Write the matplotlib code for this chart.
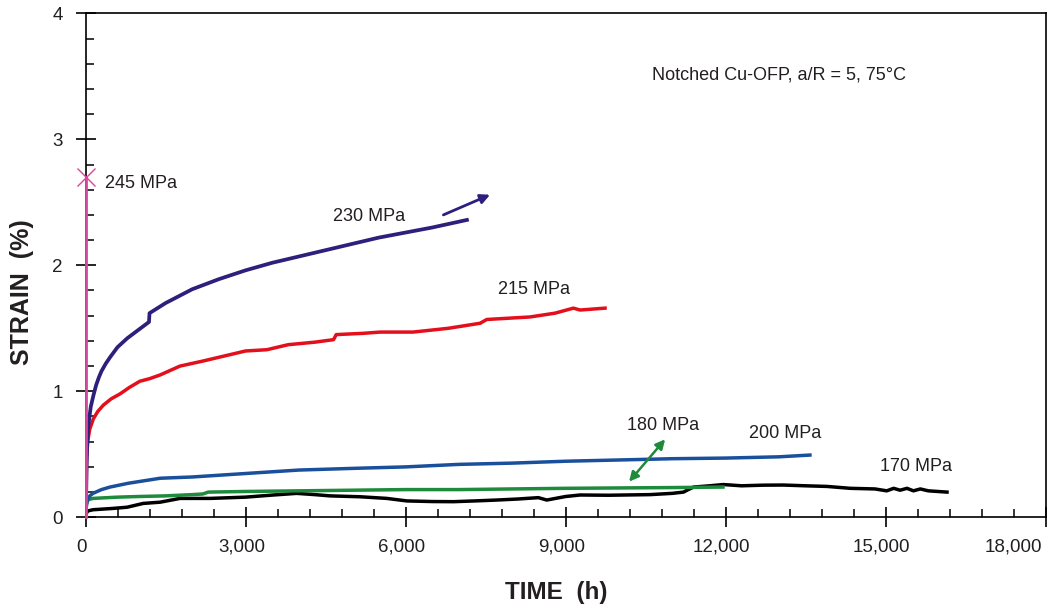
import matplotlib
matplotlib.use("Agg")
import matplotlib.pyplot as plt
from matplotlib.ticker import MultipleLocator, FuncFormatter
import matplotlib.transforms as mtransforms

plt.rcParams['font.family'] = ['Liberation Sans', 'DejaVu Sans']

# creep curves, time (h) vs strain (%)
t_245 = [15, 15]
s_245 = [0.0, 2.70]

t_230 = [10, 15, 20, 30, 45, 60, 80, 100, 150, 200, 250, 300, 380, 460, 600, 780, 1000, 1190,
         1200, 1500, 2000, 2500, 3000, 3500, 4000, 4300, 4400, 5000, 5500, 6000, 6500, 7150]
s_230 = [0.10, 0.25, 0.40, 0.55, 0.68, 0.75, 0.82, 0.88, 0.97, 1.05, 1.11, 1.16, 1.22, 1.27, 1.35,
         1.42, 1.49, 1.55, 1.62, 1.70, 1.81, 1.89, 1.96, 2.02, 2.07, 2.10, 2.11, 2.17, 2.22, 2.26,
         2.30, 2.36]

t_215 = [15, 20, 40, 80, 146, 230, 334, 480, 650, 820, 1020, 1200, 1400, 1770, 2200, 2600,
         3000, 3400, 3800, 4300, 4650, 4700, 5200, 5522, 6140, 6800, 7397, 7522, 8334, 8800,
         9146, 9272, 9740]
s_215 = [0.30, 0.48, 0.60, 0.70, 0.78, 0.84, 0.89, 0.94, 0.98, 1.03, 1.08, 1.10, 1.13, 1.20, 1.24,
         1.28, 1.32, 1.33, 1.37, 1.39, 1.41, 1.45, 1.46, 1.47, 1.47, 1.50, 1.54, 1.57, 1.59, 1.62,
         1.66, 1.645, 1.66]

t_200 = [15, 30, 80, 140, 300, 460, 800, 1400, 2000, 3270, 4000, 5150, 6000, 7000, 8000,
         9000, 10000, 11000, 12000, 13000, 13580]
s_200 = [0.08, 0.13, 0.17, 0.19, 0.22, 0.24, 0.27, 0.31, 0.32, 0.355, 0.375, 0.39, 0.40, 0.42,
         0.43, 0.445, 0.455, 0.465, 0.47, 0.48, 0.494]

t_180 = [15, 30, 50, 140, 600, 1000, 1500, 2000, 2200, 2300, 3000, 4000, 5000, 6000, 7000,
         8000, 9000, 10000, 11000, 11950]
s_180 = [0.10, 0.12, 0.14, 0.15, 0.16, 0.165, 0.17, 0.18, 0.185, 0.20, 0.205, 0.21, 0.215, 0.22,
         0.22, 0.225, 0.23, 0.233, 0.236, 0.24]

t_170 = [15, 40, 140, 500, 780, 1080, 1400, 1772, 2340, 3000, 3522, 3960, 4300, 4584, 5147,
         5647, 6022, 6500, 6897, 7300, 7710, 8100, 8490, 8647, 9000, 9272, 9800, 10585, 11000,
         11210, 11300, 11400, 11700, 11960, 12300, 12700, 13080, 13500, 13900, 14335, 14800,
         15020, 15150, 15270, 15400, 15520, 15650, 15800, 16150]
s_170 = [0.03, 0.05, 0.06, 0.07, 0.08, 0.11, 0.12, 0.15, 0.15, 0.16, 0.177, 0.19, 0.18, 0.17,
         0.163, 0.15, 0.13, 0.125, 0.124, 0.13, 0.137, 0.145, 0.156, 0.137, 0.165, 0.177, 0.175,
         0.18, 0.19, 0.20, 0.22, 0.24, 0.25, 0.26, 0.25, 0.255, 0.256, 0.25, 0.245, 0.23, 0.225,
         0.21, 0.23, 0.215, 0.23, 0.21, 0.225, 0.21, 0.20]

txt = '#231f20'
c_245, c_230, c_215 = '#d6489c', '#2e1f7c', '#e3101c'
c_200, c_180, c_170 = '#1a4f9c', '#1e8a3c', '#000000'

fig = plt.figure(figsize=(10.49, 6.10), dpi=100)
W, H = 1049, 610
x0, x1, y0, y1 = 85.5, 1045.7, 13.3, 517.3
ax = fig.add_axes([x0 / W, 1 - y1 / H, (x1 - x0) / W, (y1 - y0) / H])

lw = 2.5
ax.plot(t_170, s_170, color=c_170, lw=lw)
ax.plot(t_180, s_180, color=c_180, lw=lw)
ax.plot(t_200, s_200, color=c_200, lw=lw)
ax.plot(t_215, s_215, color=c_215, lw=lw)
ax.plot(t_230, s_230, color=c_230, lw=2.7)
ax.plot(t_245, s_245, color=c_245, lw=2.0, zorder=5, clip_on=False)
ax.plot(t_245[-1], s_245[-1], marker='x', color=c_245, ms=13, mew=1.0, zorder=5, clip_on=False)

xmax = 18000
ax.set_xlim(0, xmax)
ax.set_ylim(0, 4)
ax.xaxis.set_major_locator(MultipleLocator(3000))
ax.xaxis.set_minor_locator(MultipleLocator(600))
ax.yaxis.set_major_locator(MultipleLocator(1))
ax.yaxis.set_minor_locator(MultipleLocator(0.2))
# the last label is drawn separately so it can sit inside the figure
ax.xaxis.set_major_formatter(FuncFormatter(lambda v, p: '' if v >= xmax else f'{int(v):,}'))
ax.tick_params(which='major', direction='inout', length=15, width=1.2, labelsize=13.5,
               colors='black', labelcolor=txt)
ax.tick_params(axis='x', which='major', pad=8)
ax.tick_params(axis='y', which='major', pad=9)
ax.tick_params(which='minor', direction='in', length=6, width=1.1)
for sp in ax.spines.values():
    sp.set_linewidth(1.2)

# x tick labels sit a little left of their ticks
fig.canvas.draw()
shift = mtransforms.ScaledTranslation(-4 / 100, 0, fig.dpi_scale_trans)
for lab in ax.get_xticklabels():
    lab.set_transform(lab.get_transform() + shift)
last_off = mtransforms.ScaledTranslation(-4 / 100, -15.5 / 72, fig.dpi_scale_trans)
ax.text(xmax, 0, f'{xmax:,}', transform=ax.get_xaxis_transform() + last_off,
        ha='right', va='top', fontsize=13.5, color=txt)

fs = 13
ax.text(366, 2.65, '245 MPa', fontsize=fs, color=txt, va='center')
ax.text(4635, 2.386, '230 MPa', fontsize=fs, color=txt, va='center')
ax.text(7734, 1.81, '215 MPa', fontsize=fs, color=txt, va='center')
ax.text(12446, 0.667, '200 MPa', fontsize=fs, color=txt, va='center')
ax.text(10147, 0.725, '180 MPa', fontsize=fs, color=txt, va='center')
ax.text(14897, 0.40, '170 MPa', fontsize=fs, color=txt, va='center')
ax.text(10616, 3.51, 'Notched Cu-OFP, a/R = 5, 75°C', fontsize=fs, color=txt, va='center')

ax.annotate('', xy=(7584, 2.56), xytext=(6709, 2.40),
            arrowprops=dict(arrowstyle='-|>', color=c_230, lw=2, mutation_scale=14,
                            shrinkA=0, shrinkB=0))
ax.annotate('', xy=(10866, 0.619), xytext=(10190, 0.283),
            arrowprops=dict(arrowstyle='<|-|>', color=c_180, lw=1.8, mutation_scale=14,
                            shrinkA=0, shrinkB=0))

fig.text(22.5 / W, 1 - 291.7 / H, 'STRAIN  (%)', rotation=90, fontsize=18, fontweight='bold',
         color=txt, ha='center', va='center')
fig.text(555.8 / W, 1 - 592.7 / H, 'TIME  (h)', fontsize=17.5, fontweight='bold',
         color=txt, ha='center', va='center')

fig.savefig('out.png', dpi=100)
